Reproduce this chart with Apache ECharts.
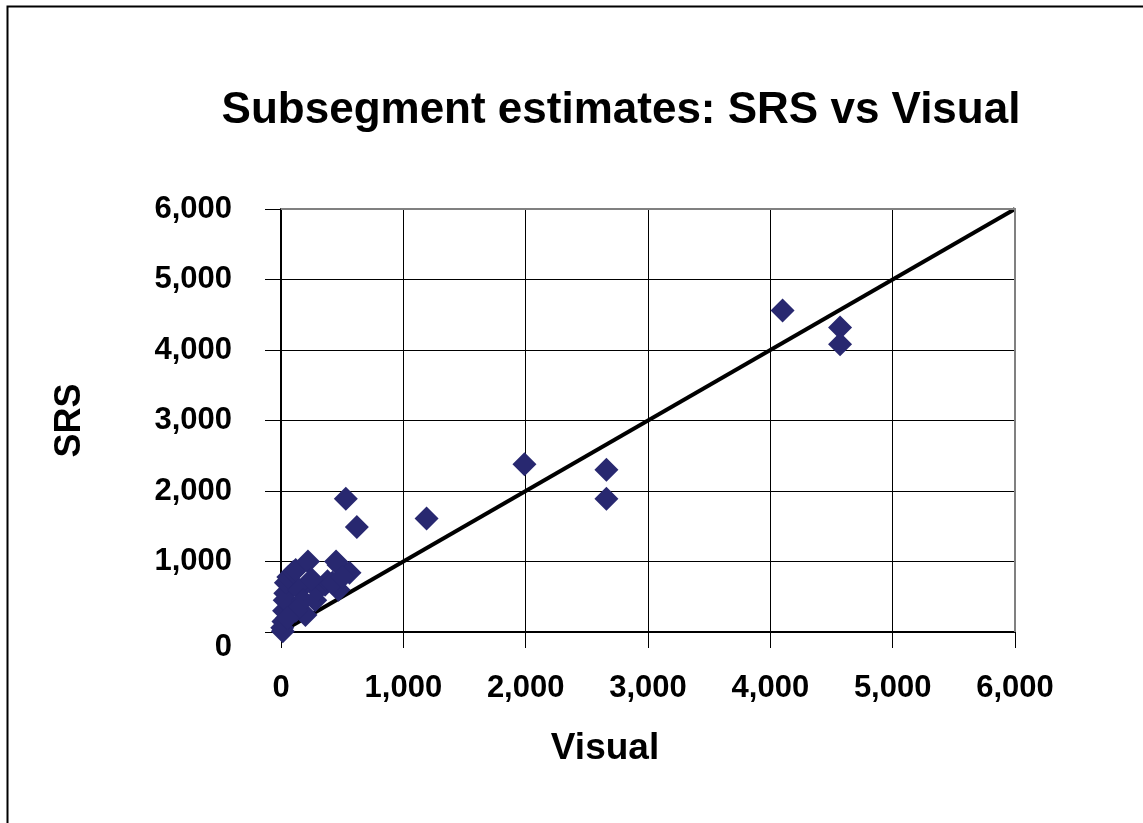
<!DOCTYPE html>
<html>
<head>
<meta charset="utf-8">
<script src="https://cdn.jsdelivr.net/npm/echarts@6/dist/echarts.min.js"></script>
<style>
  html,body{margin:0;padding:0;background:#fff;}
  #chart{width:1143px;height:823px;}
</style>
</head>
<body>
<div id="chart"></div>
<script>
  // [Visual, SRS]
  var points = [
    [15, 10], [10, 60], [20, 150], [25, 300], [30, 450], [35, 550], [40, 700],
    [60, 780], [100, 850], [120, 880], [220, 1000], [150, 600], [80, 380],
    [200, 240], [180, 450], [280, 450], [300, 600], [360, 670], [380, 720],
    [450, 1000], [470, 950], [560, 840], [470, 600], [420, 700], [500, 780],
    [120, 300], [50, 200], [250, 750],
    [530, 1890], [620, 1490], [1190, 1610], [1990, 2380],
    [2660, 2300], [2660, 1890], [4100, 4560], [4570, 4320], [4570, 4080]
  ];
  var refLine = [[0, 0], [6000, 6000]];
  var axisMin = 0, axisMax = 6000, axisStep = 1000;

  var font = 'Liberation Sans, Arial, sans-serif';
  var myChart = echarts.init(document.getElementById('chart'));
  var option = {
    backgroundColor: '#fff',
    animation: false,
    title: {
      text: 'Subsegment estimates: SRS vs Visual',
      left: 616,
      textAlign: 'center',
      top: 84,
      textStyle: {color: '#000', fontFamily: font, fontWeight: 'bold', fontSize: 44}
    },
    graphic: [{
      type: 'rect',
      shape: {x: 7.5, y: 6.5, width: 1300, height: 1000},
      style: {fill: 'none', stroke: '#000', lineWidth: 2}
    }, {
      type: 'polyline',
      shape: {points: [[281, 209], [1015, 209], [1015, 632]]},
      style: {fill: 'none', stroke: '#808080', lineWidth: 2},
      z: 5
    }],
    grid: {left: 281, right: 128, top: 209, bottom: 191, containLabel: false},
    xAxis: {
      type: 'value', min: axisMin, max: axisMax, interval: axisStep,
      name: 'Visual', nameLocation: 'middle', nameGap: 98,
      nameTextStyle: {color: '#000', fontFamily: font, fontWeight: 'bold', fontSize: 37, padding: [0, 86, 0, 0]},
      axisLine: {show: true, onZero: false, lineStyle: {color: '#000', width: 2}},
      axisTick: {show: true, length: 16, inside: false, lineStyle: {color: '#000', width: 1}},
      axisLabel: {
        color: '#000', fontFamily: font, fontWeight: 'bold', fontSize: 31, margin: 41,
        formatter: function (v) { return v.toLocaleString('en-US'); }
      },
      splitLine: {show: true, lineStyle: {color: '#000', width: 1}}
    },
    yAxis: {
      type: 'value', min: axisMin, max: axisMax, interval: axisStep,
      name: 'SRS', nameLocation: 'middle', nameGap: 193, nameRotate: 90,
      nameTextStyle: {color: '#000', fontFamily: font, fontWeight: 'bold', fontSize: 36},
      axisLine: {show: true, onZero: false, lineStyle: {color: '#000', width: 2}},
      axisTick: {show: true, length: 16, lineStyle: {color: '#000', width: 1}},
      axisLabel: {
        color: '#000', fontFamily: font, fontWeight: 'bold', fontSize: 31, margin: 49,
        formatter: function (v) {
          return v === 0 ? '{z|0}' : v.toLocaleString('en-US');
        },
        rich: {z: {fontFamily: font, fontWeight: 'bold', fontSize: 31, color: '#000', padding: [30, 0, 0, 0], width: 11}}
      },
      splitLine: {show: true, lineStyle: {color: '#000', width: 1}}
    },
    series: [{
      type: 'line',
      data: refLine,
      showSymbol: false,
      symbol: 'none',
      lineStyle: {color: '#000', width: 4},
      z: 3
    }, {
      type: 'scatter',
      data: points,
      symbol: 'diamond',
      symbolSize: 24,
      itemStyle: {color: '#282870', opacity: 1},
      z: 4
    }]
  };
  myChart.setOption(option);
</script>
</body>
</html>
